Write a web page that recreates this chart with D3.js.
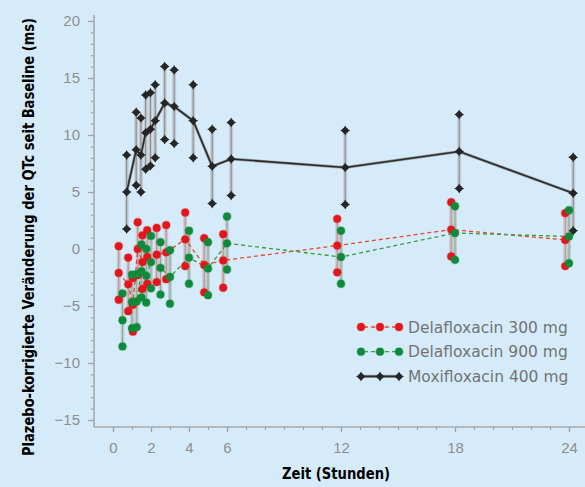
<!DOCTYPE html>
<html>
<head>
<meta charset="utf-8">
<script src="https://cdn.jsdelivr.net/npm/d3@7"></script>
<style>
  body { margin: 0; background: #d5ebf9; }
  svg { display: block; }
</style>
</head>
<body>
<svg id="chart"></svg>
<script>
// Zeitpunkte (Stunden) und Werte (ms): Mittelwert, obere und untere Grenze
const hours = [0.5, 1, 1.25, 1.5, 1.75, 2, 2.5, 3, 4, 5, 6, 12, 18, 24]

const dela300Mean  = [-2.1, -3.1, -4.9, 0.0, -1.15, -0.7, -0.5, -0.3, 0.85, -1.4, -1.0, 0.3, 1.7, 0.8]
const dela300Upper = [0.25, -0.75, -2.55, 2.35, 1.2, 1.65, 1.85, 2.1, 3.2, 0.95, 1.3, 2.65, 4.1, 3.15]
const dela300Lower = [-4.45, -5.45, -7.25, -2.3, -3.5, -3.05, -2.9, -2.65, -1.5, -3.8, -3.4, -2.05, -0.65, -1.5]

const dela900Mean  = [-6.25, -4.65, -4.6, -1.95, -2.35, -1.15, -1.65, -2.45, -0.75, -1.7, 0.5, -0.7, 1.4, 1.1]
const dela900Upper = [-3.9, -2.25, -2.2, 0.4, 0.0, 1.15, 0.6, -0.1, 1.6, 0.6, 2.85, 1.6, 3.75, 3.4]
const dela900Lower = [-8.55, -6.95, -6.85, -4.25, -4.7, -3.45, -4.0, -4.8, -3.05, -4.05, -1.8, -3.05, -0.95, -1.25]

const moxiMean  = [5.0, 8.7, 8.25, 10.2, 10.5, 11.25, 12.8, 12.5, 11.25, 7.25, 7.9, 7.15, 8.55, 4.9]
const moxiUpper = [8.25, 12.0, 11.5, 13.5, 13.7, 14.4, 16.0, 15.7, 14.4, 10.5, 11.1, 10.4, 11.8, 8.05]
const moxiLower = [1.75, 5.6, 5.0, 7.0, 7.3, 8.0, 9.6, 9.25, 8.0, 4.0, 4.7, 3.9, 5.3, 1.6]

const seriesNames = ["Delafloxacin 300 mg", "Delafloxacin 900 mg", "Moxifloxacin 400 mg"]
const xTicks = [0, 2, 4, 6, 12, 18, 24]
const yTicks = [-15, -10, -5, 0, 5, 10, 15, 20]

const width = 585, height = 487
const bg = "#d5ebf9"

const series = [
    { name: seriesNames[0], mean: dela300Mean, upper: dela300Upper, lower: dela300Lower,
      color: "#e3161b", lineColor: "#e8482e", dash: "4,3", shift: -0.2, marker: "dot" },
    { name: seriesNames[1], mean: dela900Mean, upper: dela900Upper, lower: dela900Lower,
      color: "#0e8a3a", lineColor: "#3c9b3c", dash: "4,3", shift: 0, marker: "dot" },
    { name: seriesNames[2], mean: moxiMean, upper: moxiUpper, lower: moxiLower,
      color: "#262626", lineColor: "#2b2b2b", dash: null, shift: 0.22, marker: "star" }
]

const svg = d3.select("svg#chart")
    .attr("width", width)
    .attr("height", height)
    .style("background-color", bg)

const x = d3.scaleLinear().domain([0, 24]).range([113, 569])
const y = d3.scaleLinear().domain([-15, 20]).range([420, 21])
const axisX = 94, axisY = 427

// star marker of the Moxifloxacin series
const starPath = (() => {
    const pts = []
    for (let i = 0; i < 8; i++) {
        const r = i % 2 == 0 ? 5 : 2.5
        const a = i * Math.PI / 4 - Math.PI / 2
        pts.push([r * Math.cos(a), r * Math.sin(a)])
    }
    return "M" + pts.map(p => p.join(",")).join("L") + "Z"
})()

function drawMarker(g, kind, color, cx, cy) {
    if (kind == "star") {
        g.append("path")
            .attr("d", starPath)
            .attr("transform", `translate(${cx},${cy})`)
            .style("fill", color)
        g.append("circle").attr("cx", cx).attr("cy", cy).attr("r", 3).style("fill", color)
    } else {
        g.append("circle").attr("cx", cx).attr("cy", cy).attr("r", 4.8)
            .style("fill", color).attr("opacity", 0.22)
        g.append("circle").attr("cx", cx).attr("cy", cy).attr("r", 3.9)
            .style("fill", color)
    }
}

// axes
const yMinor = svg.append("g")
    .attr("transform", `translate(${axisX},0)`)
    .call(d3.axisLeft(y).tickValues(d3.range(-15, 21)).tickSize(3).tickFormat(""))
const yMajor = svg.append("g")
    .attr("transform", `translate(${axisX},0)`)
    .call(d3.axisLeft(y).tickValues(yTicks).tickSize(6).tickPadding(8))
const xMinor = svg.append("g")
    .attr("transform", `translate(0,${axisY})`)
    .call(d3.axisBottom(x).tickValues(d3.range(0, 25)).tickSize(3).tickFormat(""))
const xMajor = svg.append("g")
    .attr("transform", `translate(0,${axisY})`)
    .call(d3.axisBottom(x).tickValues(xTicks).tickSize(5).tickPadding(10))

for (const g of [yMinor, yMajor, xMinor, xMajor]) {
    g.select(".domain").remove()
    g.selectAll(".tick line").style("stroke", "#a0a0a0").style("stroke-width", 1.2)
    g.selectAll(".tick text")
        .style("fill", "#8e8e8e")
        .style("font-family", "'Liberation Sans', Arial, sans-serif")
        .style("font-size", "15px")
}

svg.append("line")
    .attr("x1", axisX).attr("y1", 15).attr("x2", axisX).attr("y2", axisY)
    .style("stroke", "#a8a8a8").style("stroke-width", 1.6)
svg.append("line")
    .attr("x1", axisX).attr("y1", axisY).attr("x2", width).attr("y2", axisY)
    .style("stroke", "#a8a8a8").style("stroke-width", 1.6)

// axis titles
svg.append("text")
    .attr("transform", `translate(34,237) rotate(-90)`)
    .attr("text-anchor", "middle")
    .attr("textLength", 438)
    .attr("lengthAdjust", "spacingAndGlyphs")
    .style("font-family", "'Liberation Sans Narrow', 'DejaVu Sans Condensed', sans-serif")
    .style("font-weight", "bold")
    .style("font-size", "15px")
    .style("fill", "#000")
    .text("Plazebo-korrigierte Veränderung der QTc seit Baseline (ms)")

svg.append("text")
    .attr("x", 336).attr("y", 479)
    .attr("text-anchor", "middle")
    .attr("textLength", 108)
    .attr("lengthAdjust", "spacingAndGlyphs")
    .style("font-family", "'Liberation Sans Narrow', 'DejaVu Sans Condensed', sans-serif")
    .style("font-weight", "bold")
    .style("font-size", "16px")
    .style("fill", "#000")
    .text("Zeit (Stunden)")

// error bars
const barLayer = svg.append("g").attr("id", "errorBars")
series.forEach(s => {
    hours.forEach((h, i) => {
        const bx = x(h + s.shift)
        barLayer.append("line")
            .attr("x1", bx).attr("x2", bx)
            .attr("y1", y(s.upper[i])).attr("y2", y(s.lower[i]))
            .style("stroke", "#c4ccd2").style("stroke-width", 4)
        barLayer.append("line")
            .attr("x1", bx).attr("x2", bx)
            .attr("y1", y(s.upper[i])).attr("y2", y(s.lower[i]))
            .style("stroke", s.color).style("stroke-width", 1).attr("opacity", 0.4)
    })
})

// mean lines
const line = d3.line().x(d => x(d[0])).y(d => y(d[1]))
series.forEach(s => {
    const pts = hours.map((h, i) => [h + s.shift, s.mean[i]])
    if (!s.dash) {
        svg.append("path").attr("d", line(pts))
            .style("fill", "none").style("stroke", "#9aa0a5").style("stroke-width", 3)
    }
    svg.append("path").attr("d", line(pts))
        .style("fill", "none")
        .style("stroke", s.lineColor)
        .style("stroke-width", s.dash ? 1.3 : 1.6)
        .style("stroke-dasharray", s.dash)
})

// markers
series.forEach(s => {
    const g = svg.append("g")
    hours.forEach((h, i) => {
        for (const v of [s.upper[i], s.mean[i], s.lower[i]]) {
            drawMarker(g, s.marker, s.color, x(h + s.shift), y(v))
        }
    })
})

// legend
const legend = svg.append("g").attr("id", "legend")
const legendX = [361, 380, 399]
series.forEach((s, i) => {
    const ly = 327 + i * 24.7
    if (!s.dash) {
        legend.append("line")
            .attr("x1", legendX[0]).attr("x2", legendX[2]).attr("y1", ly).attr("y2", ly)
            .style("stroke", "#9aa0a5").style("stroke-width", 3.2)
    }
    legend.append("line")
        .attr("x1", legendX[0]).attr("x2", legendX[2]).attr("y1", ly).attr("y2", ly)
        .style("stroke", s.lineColor)
        .style("stroke-width", s.dash ? 1.3 : 1.6)
        .style("stroke-dasharray", s.dash ? "4,3" : null)
        .style("stroke-dashoffset", s.dash ? -3 : null)
    legendX.forEach(lx => drawMarker(legend, s.marker, s.color, lx, ly))
    legend.append("text")
        .attr("x", 408).attr("y", ly + 5.5)
        .style("font-family", "'DejaVu Sans', sans-serif")
        .style("font-size", "15.5px")
        .style("fill", "#737373")
        .text(s.name)
})
</script>
</body>
</html>
